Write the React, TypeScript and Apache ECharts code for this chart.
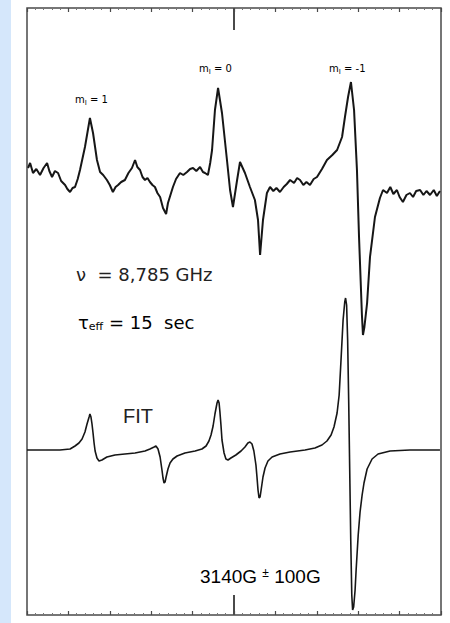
import React, { useEffect, useRef } from "react";
import * as echarts from "echarts";

// Magnetic field (G) and signal (arb. units) of the measured spectrum
const measuredField = [
  3040.5, 3041.5, 3042.9, 3044.5, 3046.3, 3048.0, 3049.7, 3050.8, 3052.1, 3053.5,
  3055.0, 3056.5, 3058.4, 3059.5, 3060.8, 3062.0, 3063.2, 3064.5, 3065.6, 3068.0,
  3070.4, 3071.9, 3073.8, 3075.3, 3076.8, 3078.6, 3080.0, 3081.5, 3082.8, 3084.0,
  3085.5, 3087.3, 3089.0, 3090.7, 3092.2, 3093.3, 3094.6, 3095.8, 3097.0, 3098.2,
  3099.4, 3100.6, 3101.8, 3103.0, 3104.3, 3105.7, 3107.2, 3108.1, 3110.5, 3112.0,
  3113.9, 3115.5, 3117.3, 3118.8, 3120.2, 3121.8, 3123.6, 3125.0, 3126.0, 3127.4,
  3128.5, 3129.4, 3130.8, 3132.3, 3134.2, 3136.6, 3138.1, 3139.5, 3141.5, 3142.9,
  3145.3, 3147.7, 3150.1, 3151.6, 3152.6, 3154.0, 3155.9, 3157.4, 3159.0, 3160.5,
  3162.2, 3164.0, 3165.5, 3167.1, 3169.0, 3170.5, 3171.9, 3173.5, 3175.0, 3176.7,
  3178.5, 3180.1, 3182.5, 3184.9, 3187.5, 3189.8, 3192.2, 3193.6, 3195.1, 3196.5,
  3198.0, 3199.4, 3200.4, 3201.8, 3202.3, 3203.0, 3204.3, 3205.7, 3208.1, 3210.5,
  3212.0, 3213.9, 3215.5, 3217.0, 3218.7, 3220.0, 3221.6, 3223.3, 3225.0, 3226.5,
  3228.0, 3229.9, 3231.5, 3233.0, 3234.7, 3236.5, 3238.0, 3239.5,
];
const measuredSignal = [
  447, 452, 442, 446, 440, 447, 452, 444, 438, 444,
  442, 434, 430, 426, 423, 427, 428, 436, 445, 468,
  497, 482, 455, 443, 440, 435, 430, 423, 428, 430,
  433, 435, 442, 447, 455, 448, 445, 438, 435, 437,
  433, 430, 428, 422, 418, 407, 401, 412, 428, 436,
  442, 440, 443, 446, 447, 444, 448, 443, 442, 440,
  452, 465, 505, 527, 502, 455, 425, 408, 435, 453,
  442, 428, 415, 395, 360, 395, 422, 428, 424, 427,
  423, 428, 431, 435, 432, 437, 435, 430, 433, 430,
  436, 438, 446, 455, 460, 465, 478, 498, 518, 533,
  505, 445, 378, 300, 280, 288, 312, 358, 398, 417,
  425, 422, 428, 421, 425, 418, 413, 420, 422, 418,
  424, 425, 420, 424, 420, 425, 419, 424,
];

// Fitted spectrum
const fitField = [
  3040.0, 3055.9, 3060.8, 3063.2, 3065.1, 3066.6, 3068.0, 3069.0, 3070.0, 3070.4,
  3070.9, 3071.4, 3071.9, 3072.4, 3072.9, 3073.8, 3074.8, 3076.2, 3078.6, 3082.5,
  3087.3, 3092.2, 3097.0, 3099.4, 3101.4, 3102.3, 3103.3, 3104.3, 3105.2, 3105.7,
  3106.2, 3106.7, 3107.2, 3108.1, 3109.1, 3110.5, 3112.5, 3116.3, 3121.2, 3124.5,
  3126.5, 3127.9, 3128.9, 3129.9, 3130.8, 3131.8, 3132.3, 3132.8, 3133.2, 3133.7,
  3134.2, 3135.2, 3136.1, 3137.1, 3138.5, 3140.9, 3143.4, 3145.3, 3146.7, 3147.7,
  3148.7, 3149.6, 3150.6, 3151.1, 3151.6, 3152.1, 3152.6, 3153.1, 3154.0, 3155.0,
  3156.4, 3158.4, 3162.2, 3167.1, 3174.3, 3179.1, 3182.5, 3184.9, 3186.9, 3188.3,
  3189.8, 3190.8, 3191.7, 3192.7, 3193.5, 3193.9, 3194.4, 3194.9, 3195.4, 3195.9,
  3196.4, 3196.9, 3197.3, 3197.8, 3198.5, 3199.0, 3200.0, 3200.9, 3201.9, 3202.8,
  3204.3, 3206.7, 3209.6, 3215.4, 3225.0, 3239.5,
];
const fitSignal = [
  165, 165, 166, 169, 172, 176, 183, 191, 198, 201,
  198, 191, 182, 172, 164, 157, 154, 155, 158, 160,
  161, 162, 164, 166, 168, 169, 166, 158, 145, 137,
  132, 133, 138, 146, 152, 156, 159, 162, 164, 166,
  169, 174, 180, 189, 201, 212, 215, 212, 203, 190,
  175, 162, 156, 155, 157, 160, 164, 168, 172, 173,
  171, 164, 150, 138, 125, 117, 118, 125, 138, 147,
  154, 158, 161, 163, 165, 167, 170, 174, 180, 188,
  202, 220, 255, 295, 313, 317, 310, 275, 215, 145,
  75, 20, 5, 8, 25, 45, 80, 103, 120, 132,
  146, 156, 161, 164, 165, 165,
];

const fieldMin = 3040;
const fieldMax = 3240;
const fieldStep = 20;
const centerField = [3140];

const lineColor = "#161616";
const frameColor = "#4a4a4a";

export default function App() {
  const ref = useRef<HTMLDivElement>(null);

  useEffect(() => {
    if (!ref.current) return;
    const chart = echarts.init(ref.current, undefined, { renderer: "svg" });
    const sans = "'Liberation Sans', Arial, sans-serif";
    const dv = "'DejaVu Sans', sans-serif";
    const textColor = "#222";
    const tickAxis = (position: "top" | "bottom", len: number, custom?: number[]) => ({
      type: "value" as const,
      position,
      min: fieldMin,
      max: fieldMax,
      interval: fieldStep,
      axisLine: { show: false },
      axisLabel: { show: false },
      splitLine: { show: false },
      axisTick: {
        show: true,
        inside: true,
        length: len,
        lineStyle: { color: frameColor, width: custom ? 2 : 1.2 },
        ...(custom ? { customValues: custom } : {}),
      },
      minorTick: custom
        ? { show: false }
        : { show: true, splitNumber: 5, length: 2, lineStyle: { color: "#777", width: 1 } },
    });
    const mRich = {
      a: { fontSize: 10, fontFamily: dv, color: "#333" },
      s: { fontSize: 7, fontFamily: dv, color: "#333", padding: [6, 0, 0, 0] },
    };
    const txt = (x: number, y: number, style: any) => ({
      type: "text",
      x,
      y,
      style: { align: "left", verticalAlign: "top", ...style },
    });
    chart.setOption({
      animation: false,
      backgroundColor: "#ffffff",
      grid: {
        left: 27,
        right: 9,
        top: 8,
        bottom: 8,
        show: true,
        borderColor: frameColor,
        borderWidth: 1.5,
        backgroundColor: "transparent",
      },
      xAxis: [
        tickAxis("bottom", 4),
        tickAxis("top", 4),
        tickAxis("bottom", 20, centerField),
        tickAxis("top", 22, centerField),
      ],
      yAxis: {
        type: "value",
        min: 0,
        max: 607,
        show: false,
      },
      graphic: [
        { type: "rect", x: 0, y: 0, shape: { width: 11, height: 623 }, style: { fill: "#d5e7fb" }, z: -1 },
        txt(75, 93, { text: "{a|m}{s|I}{a| = 1}", rich: mRich }),
        txt(199, 62, { text: "{a|m}{s|I}{a| = 0}", rich: mRich }),
        txt(329, 62, { text: "{a|m}{s|I}{a| = -1}", rich: mRich }),
        txt(76, 265, { text: "ν  = 8,785 GHz", font: `18px ${dv}`, fill: textColor }),
        txt(78, 312, {
          text: "{a|τ}{s|eff}{a| = 15  sec}",
          rich: {
            a: { fontSize: 18, fontFamily: dv, color: textColor },
            s: { fontSize: 11, fontFamily: dv, color: textColor, padding: [9, 0, 0, 0] },
          },
        }),
        txt(123, 406, { text: "FIT", font: `20px ${sans}`, fill: textColor }),
        txt(200, 567, {
          text: "{a|3140G }{p|±}{a| 100G}",
          rich: {
            a: { fontSize: 19, fontFamily: sans, color: textColor },
            p: { fontSize: 12, fontFamily: sans, color: textColor, padding: [0, 0, 7, 0] },
          },
        }),
      ],
      series: [
        {
          type: "line",
          name: "measured",
          xAxisIndex: 0,
          data: measuredField.map((f, i) => [f, measuredSignal[i]]),
          showSymbol: false,
          lineStyle: { color: lineColor, width: 2 },
          silent: true,
        },
        {
          type: "line",
          name: "fit",
          xAxisIndex: 0,
          data: fitField.map((f, i) => [f, fitSignal[i]]),
          showSymbol: false,
          lineStyle: { color: lineColor, width: 1.6 },
          silent: true,
        },
      ],
    });
    return () => chart.dispose();
  }, []);

  return (
    <div style={{ position: "fixed", left: 0, top: 0, width: 450, height: 623, background: "#fff" }}>
      <div ref={ref} style={{ width: 450, height: 623 }} />
    </div>
  );
}
